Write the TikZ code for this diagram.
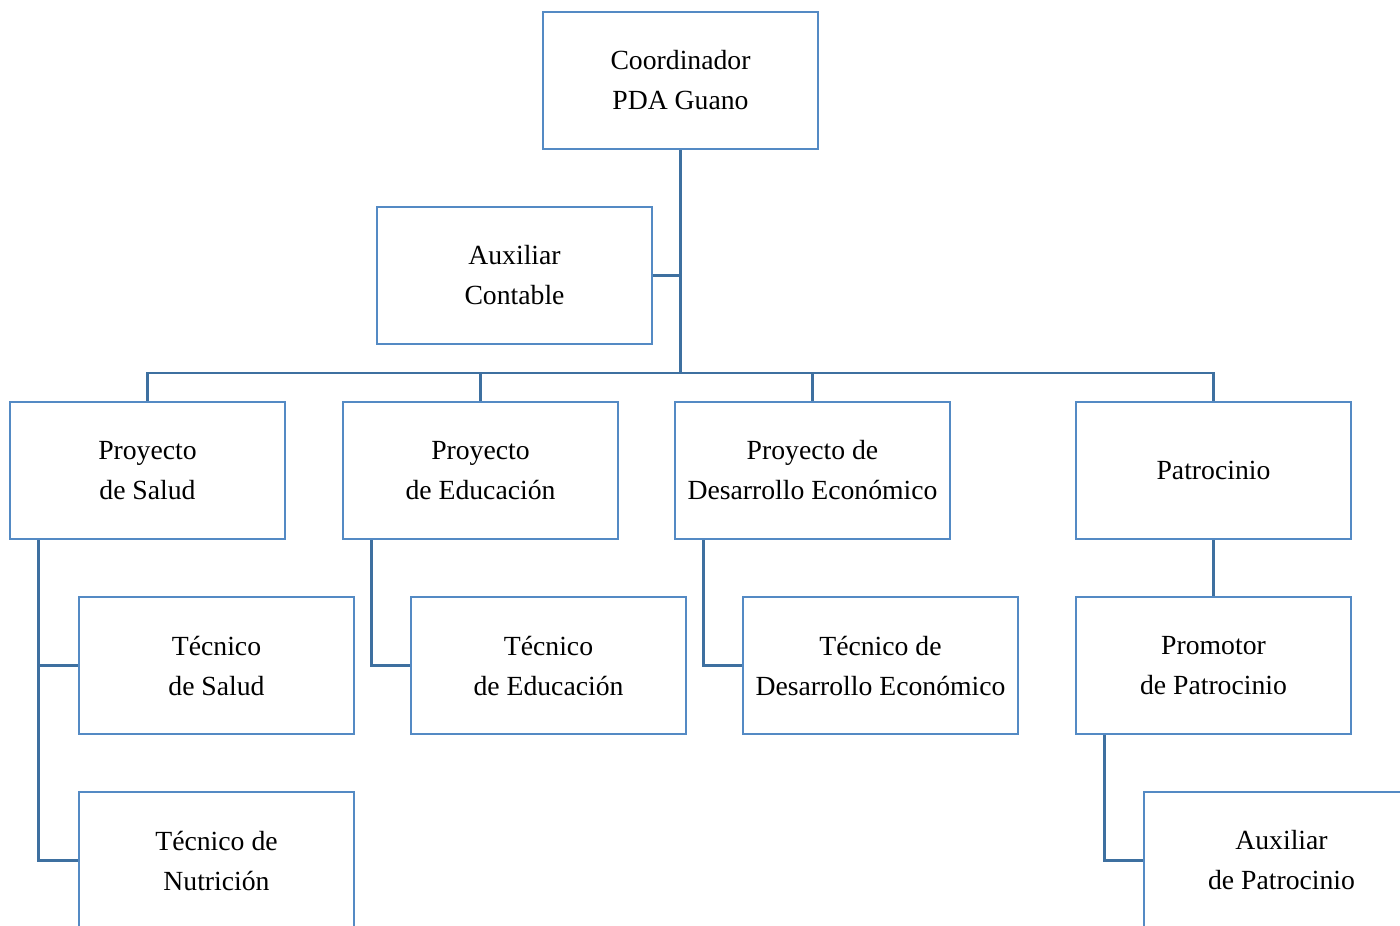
\documentclass[tikz,border=0pt]{standalone}
\usepackage{fontspec}
\setmainfont{Liberation Serif}
\usepackage{xcolor}
\usetikzlibrary{positioning}
\definecolor{boxblue}{RGB}{84,138,196}
\definecolor{lineblue}{RGB}{62,112,160}

\begin{document}
\begin{tikzpicture}[x=1pt,y=-1pt,
    cargo/.style={draw=boxblue, line width=2.8pt, minimum width=275pt, minimum height=137pt,
        inner sep=0pt, align=center, font=\fontsize{27.7}{40}\selectfont},
    enlace/.style={draw=lineblue, line width=2.8pt}]
    % basics
    \useasboundingbox (0,0) rectangle (1400,926);
    \clip (0,0) rectangle (1400,926);

    % nodes
    \node[cargo] (coord) at (680.5,80.5) {Coordinador\\PDA Guano};
    \node[cargo] (auxcont) at (514.5,275.5) {Auxiliar\\Contable};
    \node[cargo] (psalud) at (147.5,470.5) {Proyecto\\de Salud};
    \node[cargo] (peduc) at (480.5,470.5) {Proyecto\\de Educación};
    \node[cargo] (pdesa) at (812.5,470.5) {Proyecto de\\Desarrollo Económico};
    \node[cargo] (patro) at (1213.5,470.5) {Patrocinio};
    \node[cargo] (tsalud) at (216.5,665.5) {Técnico\\de Salud};
    \node[cargo] (teduc) at (548.5,665.5) {Técnico\\de Educación};
    \node[cargo] (tdesa) at (880.5,665.5) {Técnico de\\Desarrollo Económico};
    \node[cargo] (promo) at (1213.5,665.5) {Promotor\\de Patrocinio};
    \node[cargo] (tnutri) at (216.5,860.5) {Técnico de\\ Nutrición};
    \node[cargo] (auxpatro) at (1281.5,860.5) {Auxiliar\\de Patrocinio};

    % connectors
    \coordinate (bar) at (680.5,373);
    \draw[enlace] (coord.south) -- (bar);
    \draw[enlace] (auxcont.east) -- (auxcont.east -| bar);
    \draw[enlace] (psalud.north) |- (bar) -| (patro.north);
    \draw[enlace] (peduc.north) -- (peduc.north |- bar);
    \draw[enlace] (pdesa.north) -- (pdesa.north |- bar);
    \draw[enlace] (patro.south) -- (promo.north);
    \draw[enlace] ([xshift=29.5pt]psalud.south west) |- (tsalud.west);
    \draw[enlace] ([xshift=29.5pt]psalud.south west) |- (tnutri.west);
    \draw[enlace] ([xshift=29.5pt]peduc.south west) |- (teduc.west);
    \draw[enlace] ([xshift=29.5pt]pdesa.south west) |- (tdesa.west);
    \draw[enlace] ([xshift=29.5pt]promo.south west) |- (auxpatro.west);
\end{tikzpicture}
\end{document}
